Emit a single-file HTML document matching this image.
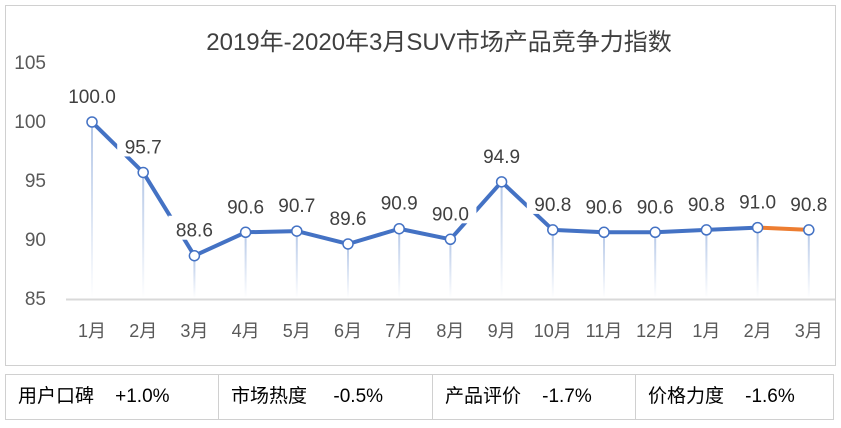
<!DOCTYPE html><html><head><meta charset="utf-8"><style>
body{margin:0;width:841px;height:428px;background:#fff;font-family:"Liberation Sans","Noto Sans CJK SC",sans-serif;overflow:hidden;position:relative}
.tb{position:absolute;top:374px;left:5px;width:829px;height:46px;border:1px solid #d0d0d0;box-sizing:border-box;display:flex}
.tb div{border-right:1px solid #d0d0d0;box-sizing:border-box;font-size:19px;line-height:44px;padding-left:12px;color:#000;white-space:pre}
.tb span{font-family:"Liberation Sans Narrow","Liberation Sans",sans-serif;font-size:19px}
</style></head><body>
<svg width="841" height="370" style="position:absolute;left:0;top:0">
<defs><linearGradient id="g" x1="0" y1="0" x2="0" y2="1"><stop offset="0" stop-color="#b4c7e7"/><stop offset="1" stop-color="#fff"/></linearGradient></defs>
<rect x="5.5" y="5.5" width="830" height="360" fill="#fff" stroke="#d0d0d0"/>
<text x="439" y="50" font-size="24" fill="#404040" text-anchor="middle" font-family="Liberation Sans,Noto Sans CJK SC,sans-serif">2019年-2020年3月SUV市场产品竞争力指数</text>
<g font-size="19" fill="#595959" text-anchor="end" font-family="Liberation Sans,sans-serif">
<text x="46" y="69">105</text><text x="46" y="128">100</text><text x="46" y="187">95</text><text x="46" y="246">90</text><text x="46" y="305">85</text></g>
<line x1="66" y1="299.5" x2="835" y2="299.5" stroke="#d9d9d9" stroke-width="2"/>
</svg>
<div class="tb"><div style="width:213px">用户口碑    <span>+1.0%</span></div><div style="width:214px">市场热度     <span>-0.5%</span></div><div style="width:203px">产品评价    <span>-1.7%</span></div><div style="border:none">价格力度    <span>-1.6%</span></div></div>
<script>
var v=[100.0,95.7,88.6,90.6,90.7,89.6,90.9,90.0,94.9,90.8,90.6,90.6,90.8,91.0,90.8];
var m=["1月","2月","3月","4月","5月","6月","7月","8月","9月","10月","11月","12月","1月","2月","3月"];
var s=document.querySelector('svg'),h="";
function X(i){return 92+51.2*i}function Y(a){return 122+(100-a)*11.73}
for(var i=0;i<15;i++){h+='<rect x="'+(X(i)-1)+'" y="'+Y(v[i])+'" width="2" height="'+(298-Y(v[i]))+'" fill="url(#g)"/>';}
var p="";for(i=0;i<14;i++)p+=(i?"L":"M")+X(i)+","+Y(v[i]);
h+='<path d="'+p+'" fill="none" stroke="#4472c4" stroke-width="4" stroke-linejoin="round"/>';
h+='<line x1="'+X(13)+'" y1="'+Y(v[13])+'" x2="'+X(14)+'" y2="'+Y(v[14])+'" stroke="#ed7d31" stroke-width="4"/>';
for(i=0;i<15;i++){var t=v[i].toFixed(1);h+='<rect x="'+(X(i)-26)+'" y="'+(Y(v[i])-40)+'" width="52" height="24" fill="#fff"/><text x="'+X(i)+'" y="'+(Y(v[i])-19)+'" font-size="19" fill="#404040" text-anchor="middle" font-family="Liberation Sans,sans-serif">'+t+'</text>';
h+='<circle cx="'+X(i)+'" cy="'+Y(v[i])+'" r="5" fill="#fff" stroke="#4472c4" stroke-width="1.5"/>';
h+='<text x="'+X(i)+'" y="337" font-size="18" fill="#595959" text-anchor="middle" font-family="Liberation Sans,Noto Sans CJK SC,sans-serif">'+m[i]+'</text>';}
s.insertAdjacentHTML('beforeend',h);
</script>
</body></html>
